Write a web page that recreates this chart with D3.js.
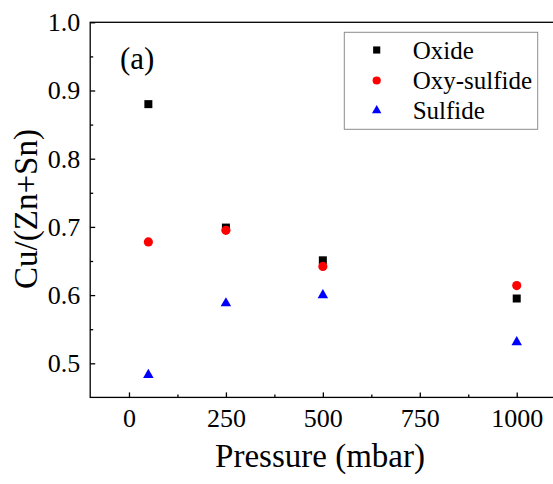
<!DOCTYPE html>
<html>
<head>
<meta charset="utf-8">
<script src="https://cdn.jsdelivr.net/npm/d3@7"></script>
<style>
  body { margin: 0; background: #fff; }
  svg { display: block; }
  svg text { font-family: "Liberation Serif", "Times New Roman", serif; fill: #000; }
</style>
</head>
<body>
<svg id="chart"></svg>
<script>
// data
var pressure = [50, 250, 500, 1000];
var oxide = [0.880, 0.699, 0.651, 0.595];
var oxySulfide = [0.678, 0.695, 0.642, 0.614];
var sulfide = [0.483, 0.588, 0.600, 0.531];
var xTicks = [0, 250, 500, 750, 1000];
var yTicks = [0.5, 0.6, 0.7, 0.8, 0.9, 1.0];

var series = [
  { name: "Oxide", values: oxide, color: "#000000", shape: d3.symbolSquare, size: 64 },
  { name: "Oxy-sulfide", values: oxySulfide, color: "#ff0000", shape: d3.symbolCircle, size: 66 },
  { name: "Sulfide", values: sulfide, color: "#0000ff", shape: d3.symbolTriangle, size: 48 }
];

var W = 553, H = 484;
// plot box (right edge runs past the picture, as in the original)
var pLeft = 90.2, pRight = 555.5, pTop = 22.3, pBottom = 397.4;

var svg = d3.select("#chart").attr("width", W).attr("height", H);

var x = d3.scaleLinear().domain([-100, 1100]).range([pLeft, pRight]);
var y = d3.scaleLinear().domain([0.45, 1.0]).range([pBottom, pTop]);

// frame
svg.append("rect")
  .attr("x", pLeft).attr("y", pTop)
  .attr("width", pRight - pLeft).attr("height", pBottom - pTop)
  .attr("fill", "none").attr("stroke", "#000").attr("stroke-width", 1.3);

// minor ticks (inward)
var xMinor = [125, 375, 625, 875];
var yMinor = [0.55, 0.65, 0.75, 0.85, 0.95];

svg.append("g")
  .attr("transform", "translate(0," + pBottom + ")")
  .call(d3.axisBottom(x).tickValues(xMinor).tickSize(-3).tickFormat(""))
  .call(g => g.select(".domain").remove())
  .selectAll("line").attr("stroke-width", 1.3);

svg.append("g")
  .attr("transform", "translate(" + pLeft + ",0)")
  .call(d3.axisLeft(y).tickValues(yMinor).tickSize(-3).tickFormat(""))
  .call(g => g.select(".domain").remove())
  .selectAll("line").attr("stroke-width", 1.3);

// major ticks + labels
var xAxis = svg.append("g")
  .attr("transform", "translate(0," + pBottom + ")")
  .call(d3.axisBottom(x).tickValues(xTicks).tickSize(-5).tickPadding(11).tickFormat(d3.format("d")));
xAxis.attr("font-family", "Liberation Serif").attr("font-size", 26);
xAxis.select(".domain").remove();
xAxis.selectAll("line").attr("stroke-width", 1.3);

var yAxis = svg.append("g")
  .attr("transform", "translate(" + pLeft + ",0)")
  .call(d3.axisLeft(y).tickValues(yTicks).tickSize(-5).tickPadding(10).tickFormat(d3.format(".1f")));
yAxis.attr("font-family", "Liberation Serif").attr("font-size", 26);
yAxis.select(".domain").remove();
yAxis.selectAll("line").attr("stroke-width", 1.3);

// points
series.forEach(function(s) {
  svg.append("g").selectAll("path")
    .data(s.values)
    .enter()
    .append("path")
    .attr("d", d3.symbol().type(s.shape).size(s.size))
    .attr("transform", (d, i) => "translate(" + x(pressure[i]) + "," + y(d) + ")")
    .attr("fill", s.color);
});

// axis titles
svg.append("text")
  .attr("x", 320).attr("y", 467)
  .attr("text-anchor", "middle")
  .attr("font-size", 33)
  .text("Pressure (mbar)");

svg.append("text")
  .attr("transform", "translate(37,209) rotate(-90)")
  .attr("text-anchor", "middle")
  .attr("font-size", 33)
  .text("Cu/(Zn+Sn)");

// panel label
svg.append("text")
  .attr("x", 120).attr("y", 69)
  .attr("font-size", 31)
  .text("(a)");

// legend
var legend = svg.append("g");
legend.append("rect")
  .attr("x", 344.3).attr("y", 32.3)
  .attr("width", 193.4).attr("height", 97)
  .attr("fill", "#fff").attr("stroke", "#8c8c8c").attr("stroke-width", 1);

var legendRows = [50, 80.5, 110.5];
series.forEach(function(s, i) {
  legend.append("path")
    .attr("d", d3.symbol().type(s.shape).size(s.size * 0.8))
    .attr("transform", "translate(376.7," + legendRows[i] + ")")
    .attr("fill", s.color);
  legend.append("text")
    .attr("x", 412.7).attr("y", legendRows[i] + 8.5)
    .attr("font-size", 25)
    .text(s.name);
});
</script>
</body>
</html>
